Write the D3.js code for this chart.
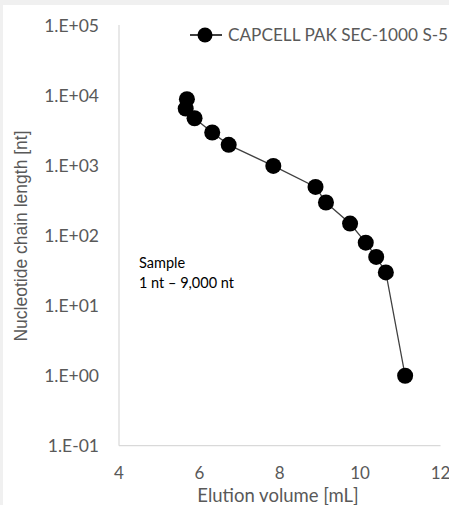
<!DOCTYPE html>
<html>
<head>
<meta charset="utf-8">
<script src="https://cdn.jsdelivr.net/npm/d3@7"></script>
<style>
  html, body { margin: 0; padding: 0; background: #f0f0f0; }
  svg { display: block; }
</style>
</head>
<body>
<svg id="chart" width="449" height="505"></svg>
<script>
// ---- data ----
const seriesName = "CAPCELL PAK SEC-1000 S-5";
const elutionVolume = [5.69, 5.66, 5.88, 6.32, 6.73, 7.84, 8.89, 9.15, 9.75, 10.14, 10.40, 10.64, 11.12];
const chainLength   = [9000, 6600, 4800, 3000, 2000, 1000, 500, 300, 150, 80, 50, 30, 1];
const xTickValues = [4, 6, 8, 10, 12];
const yTickValues = [0.1, 1, 10, 100, 1000, 10000, 100000];
const yTickLabels = ["1.E-01", "1.E+00", "1.E+01", "1.E+02", "1.E+03", "1.E+04", "1.E+05"];
const xTitle = "Elution volume [mL]";
const yTitle = "Nucleotide chain length [nt]";
const noteLines = ["Sample", "1 nt \u2013 9,000 nt"];

// ---- layout ----
const W = 449, H = 505;
const mLeft = 119, mRight = 440.5, mTop = 26, mBottom = 445.7;
const font = "Lato, 'Liberation Sans', sans-serif";
const textGray = "#595959";

const svg = d3.select("#chart");
svg.append("rect").attr("x", 3).attr("y", 5).attr("width", W - 3).attr("height", H - 5).attr("fill", "#ffffff");

const x = d3.scaleLinear().domain([4, 12]).range([mLeft, mRight]);
const y = d3.scaleLog().domain([0.1, 100000]).range([mBottom, mTop]);

// axes lines
svg.append("line").attr("x1", mLeft).attr("x2", mLeft).attr("y1", mTop - 1).attr("y2", mBottom)
  .attr("stroke", "#d9d9d9").attr("stroke-width", 1.2);
svg.append("line").attr("x1", mLeft).attr("x2", mRight).attr("y1", mBottom).attr("y2", mBottom)
  .attr("stroke", "#d9d9d9").attr("stroke-width", 1.2);

// y tick labels
svg.append("g").selectAll("text").data(yTickValues).join("text")
  .attr("x", 99).attr("y", d => y(d)).attr("dy", "0.35em")
  .attr("text-anchor", "end").attr("font-family", font).attr("font-size", 17.5)
  .attr("fill", textGray).text((d, i) => yTickLabels[i]);

// x tick labels
svg.append("g").selectAll("text").data(xTickValues).join("text")
  .attr("x", d => x(d)).attr("y", 473).attr("dy", "0.35em")
  .attr("text-anchor", "middle").attr("font-family", font).attr("font-size", 17)
  .attr("fill", textGray).text(d => d);

// axis titles
svg.append("text").attr("x", 278).attr("y", 502).attr("text-anchor", "middle")
  .attr("font-family", font).attr("font-size", 18.5).attr("fill", textGray).text(xTitle);
svg.append("text").attr("transform", "translate(27,236) rotate(-90)").attr("text-anchor", "middle")
  .attr("font-family", "'Liberation Sans', Arial, sans-serif").attr("font-size", 17.5).attr("fill", textGray).text(yTitle);

// series line + markers
const line = d3.line().x((d, i) => x(elutionVolume[i])).y((d, i) => y(chainLength[i]));
svg.append("path").datum(chainLength).attr("d", line)
  .attr("fill", "none").attr("stroke", "#404040").attr("stroke-width", 1.3);
svg.append("g").selectAll("circle").data(chainLength).join("circle")
  .attr("cx", (d, i) => x(elutionVolume[i])).attr("cy", d => y(d)).attr("r", 8)
  .attr("fill", "#000000");

// annotation
svg.append("g").selectAll("text").data(noteLines).join("text")
  .attr("x", 139).attr("y", (d, i) => 263 + i * 20).attr("dy", "0.35em")
  .attr("font-family", font).attr("font-size", 14.5).attr("fill", "#000000").text(d => d);

// legend
const lg = svg.append("g");
lg.append("line").attr("x1", 190).attr("x2", 222).attr("y1", 35).attr("y2", 35)
  .attr("stroke", "#000000").attr("stroke-width", 1.5);
lg.append("circle").attr("cx", 205).attr("cy", 35).attr("r", 7.5).attr("fill", "#000000");
lg.append("text").attr("x", 228).attr("y", 35).attr("dy", "0.35em")
  .attr("font-family", font).attr("font-size", 17.2).attr("fill", textGray).text(seriesName);
</script>
</body>
</html>
